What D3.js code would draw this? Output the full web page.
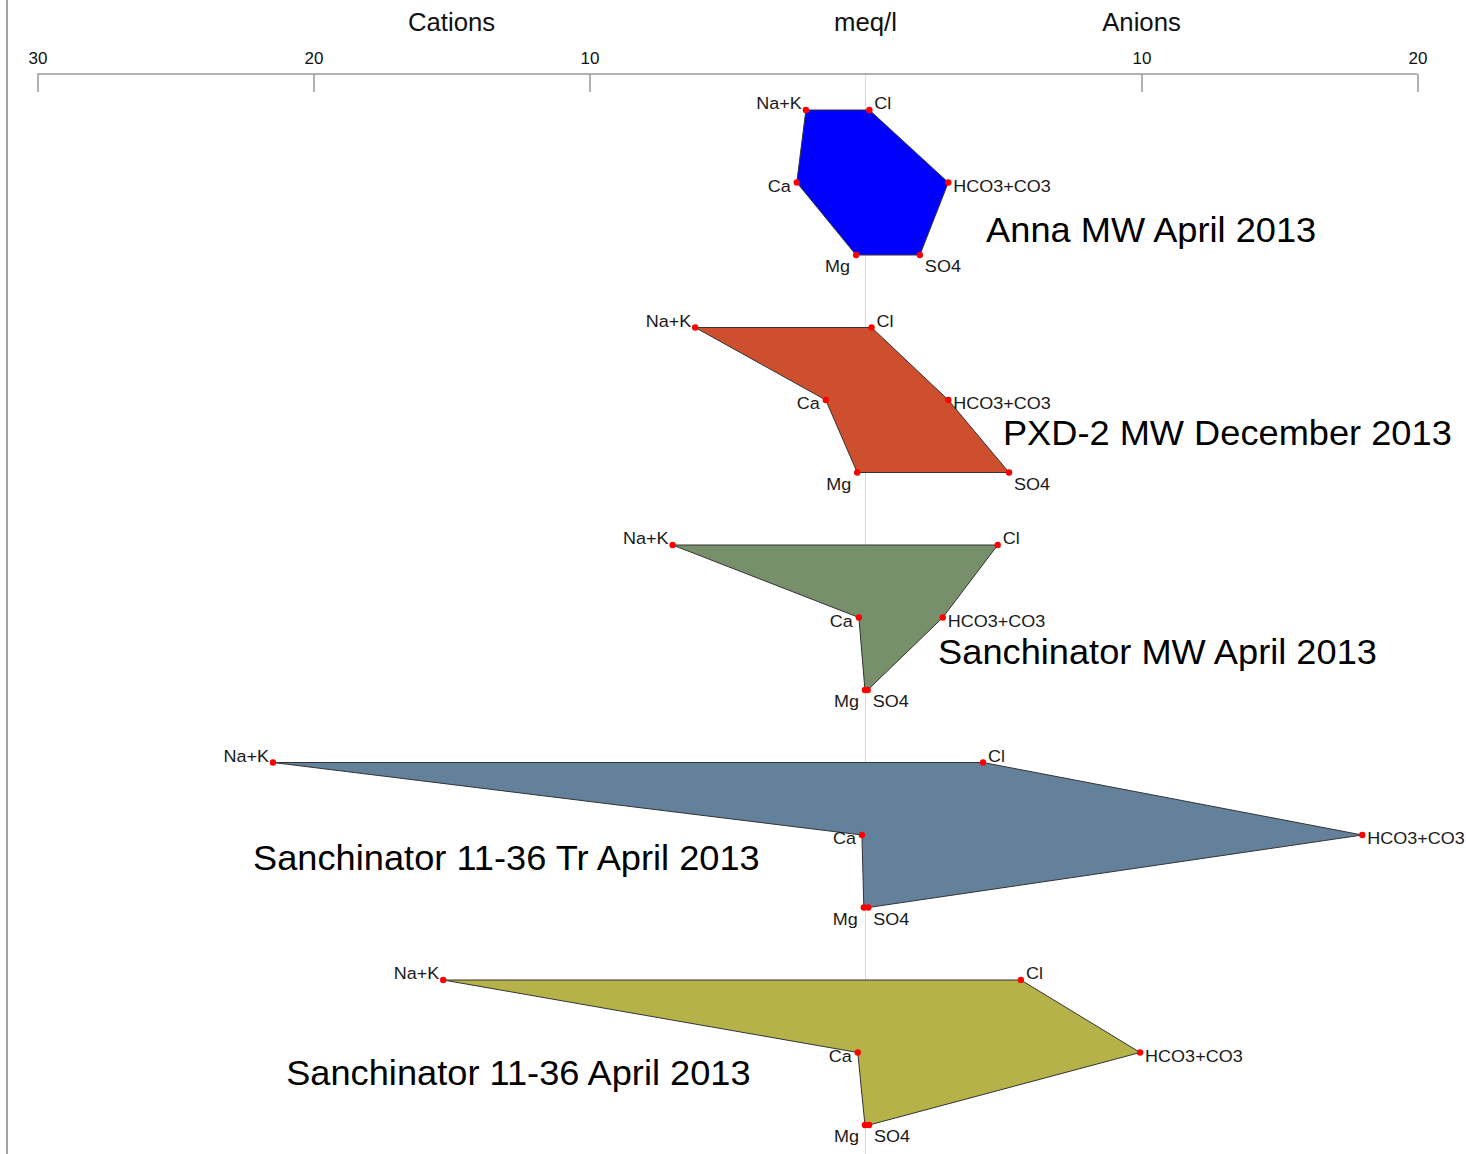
<!DOCTYPE html>
<html>
<head>
<meta charset="utf-8">
<script src="https://cdn.jsdelivr.net/npm/d3@7/dist/d3.min.js"></script>
<style>
  html, body { margin: 0; padding: 0; background: #fff; }
  svg { display: block; font-family: "Liberation Sans", Arial, sans-serif; }
</style>
</head>
<body>
<svg id="chart" width="1466" height="1154"></svg>
<script>
// Stiff diagrams, meq/l. Cations plotted to the left, anions to the right.
const sites = [
  "Anna MW April 2013",
  "PXD-2 MW December 2013",
  "Sanchinator MW April 2013",
  "Sanchinator 11-36 Tr April 2013",
  "Sanchinator 11-36 April 2013"
];
// cations (meq/l)
const naK  = [2.16, 6.17, 6.99, 21.47, 15.30];
const ca   = [2.49, 1.44, 0.24, 0.13, 0.28];
const mg   = [0.34, 0.30, 0.02, 0.06, 0.02];
// anions (meq/l)
const cl   = [0.14, 0.22, 4.79, 4.26, 5.63];
const hco3 = [3.00, 3.00, 2.80, 18.00, 9.95];
const so4  = [1.97, 5.20, 0.08, 0.10, 0.13];

const cationNames = ["Na+K", "Ca", "Mg"];
const anionNames  = ["Cl", "HCO3+CO3", "SO4"];
const tickValues  = [-30, -20, -10, 10, 20];
const headers     = [{ v: -15, text: "Cations" }, { v: 0, text: "meq/l" }, { v: 10, text: "Anions" }];

const fills = ["#0000FF", "#CD4F2E", "#778F6A", "#63819B", "#B5B24A"];

// where each site name sits: x in signed meq/l, y in row units (baseline)
const titleSpots = [
  { x: 4.37,   row: 1.82 },
  { x: 4.98,   row: 4.62 },
  { x: 2.63,   row: 7.64 },
  { x: -22.19, row: 10.48 },
  { x: -20.99, row: 13.45 }
];

const svg = d3.select("#chart");

const x = d3.scaleLinear().domain([-30, 20]).range([37.5, 1417.5]);
const y = d3.scaleLinear().domain([0, 14]).range([110, 1125]);

// text with a slightly widened face
function label(sel, px, py, sx) {
  return sel.attr("x", 0).attr("y", 0)
    .attr("transform", `translate(${px},${py}) scale(${sx},1)`);
}

// left frame edge
svg.append("line")
  .attr("x1", 7).attr("x2", 7).attr("y1", 0).attr("y2", 1154)
  .attr("stroke", "#666").attr("stroke-width", 1.2);

// zero line
svg.append("line")
  .attr("x1", x(0)).attr("x2", x(0)).attr("y1", 74).attr("y2", 1154)
  .attr("stroke", "#d9d9d9").attr("stroke-width", 1);

// top axis
const axis = d3.axisBottom(x)
  .tickValues(tickValues)
  .tickSize(18)
  .tickFormat(d => Math.abs(d));
const gAxis = svg.append("g").attr("transform", "translate(0,74)").call(axis);
gAxis.select(".domain").attr("stroke", "#999").attr("stroke-width", 1.5)
  .attr("d", `M${x(-30)},0H${x(20)}`);
gAxis.selectAll(".tick line").attr("stroke", "#999").attr("stroke-width", 1.5);
gAxis.selectAll(".tick text")
  .attr("y", -10).attr("dy", 0)
  .attr("font-size", 17).attr("fill", "#111")
  .attr("font-family", "Liberation Sans, Arial, sans-serif");

svg.append("g").selectAll("text").data(headers).join("text")
  .each(function (d) { label(d3.select(this), x(d.v), 31, 1.03); })
  .attr("text-anchor", "middle")
  .attr("font-size", 25).attr("fill", "#111")
  .text(d => d.text);

// one diagram per site
sites.forEach((site, i) => {
  const r0 = i * 3;
  const cat = [naK[i], ca[i], mg[i]];
  const an  = [cl[i], hco3[i], so4[i]];
  const catPts = cat.map((v, k) => ({ px: x(-v), py: y(r0 + k), name: cationNames[k], k }));
  const anPts  = an.map((v, k) => ({ px: x(v), py: y(r0 + k), name: anionNames[k], k }));
  const ring = catPts.concat(anPts.slice().reverse());

  const g = svg.append("g");
  g.append("path")
    .attr("d", d3.line().x(d => d.px).y(d => d.py)(ring) + "Z")
    .attr("fill", fills[i])
    .attr("stroke", "#333").attr("stroke-width", 1);

  const dyRow = [-1, 9, 17];
  g.selectAll("text.cat").data(catPts).join("text")
    .attr("class", "cat")
    .each(function (d) {
      label(d3.select(this), d.px - (d.k === 0 ? 4 : 6), d.py + dyRow[d.k], 1.06);
    })
    .attr("text-anchor", "end")
    .attr("font-size", 17).attr("fill", "#1a1a1a")
    .text(d => d.name);
  g.selectAll("text.an").data(anPts).join("text")
    .attr("class", "an")
    .each(function (d) {
      label(d3.select(this), d.px + 5, d.py + dyRow[d.k], 1.06);
    })
    .attr("text-anchor", "start")
    .attr("font-size", 17).attr("fill", "#1a1a1a")
    .text(d => d.name);

  g.selectAll("circle").data(ring).join("circle")
    .attr("cx", d => d.px).attr("cy", d => d.py)
    .attr("r", 3.2).attr("fill", "#FF0000");

  const t = titleSpots[i];
  label(g.append("text"), x(t.x), y(t.row), 1.035)
    .attr("font-size", 35).attr("fill", "#000")
    .text(site);
});
</script>
</body>
</html>
